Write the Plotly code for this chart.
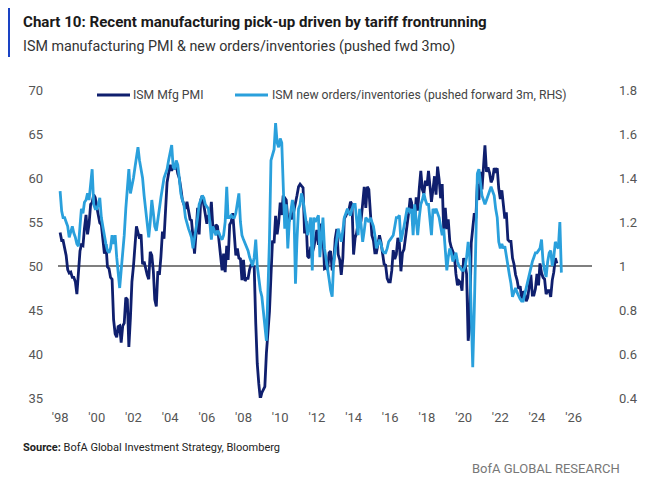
import plotly.graph_objects as go
import pandas as pd

# ---------------- data ----------------
ism_start = "1998-01-01"
ism_pmi = [
    53.8, 52.9, 52.9, 52.2, 51.2, 49.6, 49.2, 49.3, 48.7, 48.7, 48.2, 46.8,  # 1998
    49.5, 51.7, 52.4, 52.3, 54.3, 55.8, 53.6, 54.8, 57.0, 57.2, 58.1, 57.8,  # 1999
    56.7, 55.8, 54.9, 54.7, 53.2, 51.4, 52.5, 49.9, 49.7, 48.7, 48.5, 43.9,  # 2000
    42.3, 41.9, 43.1, 43.2, 41.3, 43.2, 43.5, 46.4, 46.2, 40.8, 44.1, 48.2,  # 2001
    50.0, 52.3, 54.5, 53.8, 53.1, 53.6, 50.2, 50.5, 49.5, 49.0, 48.5, 51.6,  # 2002
    51.2, 49.4, 46.2, 45.4, 49.4, 49.0, 51.0, 53.9, 53.1, 57.0, 59.5, 60.5,  # 2003
    61.5, 60.8, 61.5, 61.0, 61.5, 60.5, 60.0, 58.8, 57.5, 57.0, 56.5, 57.3,  # 2004
    56.4, 55.3, 55.2, 53.3, 51.4, 53.8, 56.6, 53.6, 57.5, 58.0, 57.0, 55.6,  # 2005
    54.8, 55.8, 55.3, 57.3, 54.4, 53.8, 54.7, 54.5, 52.9, 51.2, 49.5, 51.4,  # 2006
    49.3, 52.3, 50.7, 54.7, 55.0, 56.0, 53.8, 51.2, 52.0, 50.9, 50.8, 48.4,  # 2007
    50.7, 48.3, 48.6, 48.6, 49.6, 50.2, 50.0, 49.9, 43.5, 38.9, 36.6, 34.9,  # 2008
    35.6, 36.0, 36.3, 40.1, 42.8, 44.8, 48.9, 52.9, 52.6, 55.7, 53.6, 54.9,  # 2009
    57.2, 55.8, 58.0, 57.8, 57.5, 55.3, 55.1, 56.0, 55.3, 56.3, 57.0, 58.0,  # 2010
    59.0, 59.3, 59.1, 58.9, 53.7, 55.1, 51.1, 50.9, 52.2, 51.5, 52.1, 53.1,  # 2011
    54.1, 52.4, 53.4, 54.8, 53.5, 49.7, 49.8, 49.6, 51.5, 51.7, 49.5, 50.2,  # 2012
    53.1, 54.2, 51.3, 50.7, 49.0, 50.9, 55.4, 55.7, 56.2, 56.4, 57.3, 57.0,  # 2013
    51.3, 53.2, 53.7, 54.9, 55.4, 55.3, 57.1, 59.0, 56.6, 59.0, 58.7, 55.5,  # 2014
    53.5, 52.9, 51.5, 51.5, 52.8, 53.5, 52.7, 51.1, 50.2, 50.1, 48.6, 48.2,  # 2015
    48.2, 49.5, 51.8, 50.8, 51.3, 53.2, 52.6, 49.4, 51.5, 51.9, 53.2, 54.7,  # 2016
    56.0, 57.7, 57.2, 54.8, 54.9, 57.8, 56.3, 58.8, 60.8, 58.7, 58.2, 59.7,  # 2017
    59.1, 60.8, 59.3, 57.3, 58.7, 60.2, 58.1, 61.3, 59.8, 57.7, 59.3, 54.1,  # 2018
    56.6, 54.2, 55.3, 52.8, 52.1, 51.7, 51.2, 49.1, 47.8, 48.3, 48.1, 47.2,  # 2019
    50.9, 50.1, 49.1, 41.5, 43.1, 52.6, 54.2, 56.0, 55.4, 59.3, 57.5, 60.7,  # 2020
    58.7, 60.8, 63.7, 60.7, 61.2, 60.6, 59.5, 59.9, 61.1, 60.8, 61.1, 58.8,  # 2021
    57.6, 58.6, 57.1, 55.4, 56.1, 53.0, 52.8, 52.8, 50.9, 50.2, 49.0, 48.4,  # 2022
    47.4, 47.7, 46.3, 47.1, 46.9, 46.0, 46.4, 47.6, 49.0, 46.7, 46.7, 47.4,  # 2023
    49.1, 47.8, 50.3, 49.2, 48.7, 48.5, 46.8, 47.2, 47.2, 46.5, 48.4, 49.3,  # 2024
    50.9, 50.3,                                                              # 2025
]

ratio_start = "1998-01-01"
new_orders_inv_ratio = [
    1.34, 1.25, 1.22, 1.22, 1.20, 1.18, 1.13, 1.16, 1.18, 1.15, 1.13, 1.10,  # 1998
    1.09, 1.18, 1.26, 1.24, 1.29, 1.30, 1.33, 1.30, 1.36, 1.44, 1.28, 1.26,  # 1999
    1.26, 1.28, 1.31, 1.22, 1.18, 1.13, 1.10, 1.07, 1.06, 1.08, 1.14, 1.10,  # 2000
    1.14, 1.04, 0.97, 0.90, 0.98, 1.06, 1.14, 1.26, 1.34, 1.44, 1.33, 1.36,  # 2001
    1.40, 1.45, 1.50, 1.54, 1.48, 1.44, 1.40, 1.32, 1.26, 1.18, 1.13, 1.20,  # 2002
    1.30, 1.24, 1.18, 1.16, 1.22, 1.26, 1.31, 1.36, 1.40, 1.42, 1.44, 1.48,  # 2003
    1.52, 1.55, 1.45, 1.44, 1.48, 1.46, 1.40, 1.33, 1.30, 1.28, 1.22, 1.19,  # 2004
    1.17, 1.15, 1.13, 1.08, 1.12, 1.16, 1.22, 1.28, 1.30, 1.32, 1.31, 1.28,  # 2005
    1.27, 1.26, 1.20, 1.12, 1.18, 1.16, 1.14, 1.16, 1.15, 1.13, 1.12, 1.14,  # 2006
    1.20, 1.36, 1.22, 1.22, 1.23, 1.22, 1.22, 1.24, 1.28, 1.33, 1.20, 1.14,  # 2007
    1.12, 1.10, 1.09, 1.07, 1.04, 1.02, 1.00, 1.04, 1.12, 1.00, 0.94, 0.89,  # 2008
    0.86, 0.80, 0.72, 0.66, 0.88, 1.12, 1.48, 1.50, 1.53, 1.65, 1.56, 1.54,  # 2009
    1.58, 1.56, 1.33, 1.17, 1.28, 1.08, 1.20, 1.26, 1.30, 1.26, 0.92, 1.12,  # 2010
    1.26, 1.28, 1.33, 1.30, 1.26, 1.20, 1.14, 1.18, 1.22, 0.98, 1.22, 1.20,  # 2011
    1.22, 1.23, 1.04, 1.14, 1.22, 1.08, 1.04, 0.98, 0.94, 0.89, 0.86, 1.02,  # 2012
    1.08, 1.12, 1.17, 1.14, 1.11, 1.16, 1.22, 1.24, 1.26, 1.24, 1.23, 1.26,  # 2013
    1.28, 1.28, 1.20, 1.14, 1.26, 1.18, 1.11, 1.16, 1.22, 1.21, 1.20, 1.22,  # 2014
    1.20, 1.18, 1.14, 1.08, 1.10, 1.12, 1.10, 1.07, 1.06, 1.06, 1.08, 1.11,  # 2015
    1.12, 1.13, 1.14, 1.18, 1.22, 1.22, 1.23, 1.11, 1.14, 1.18, 1.22, 1.26,  # 2016
    1.26, 1.24, 1.26, 1.14, 1.28, 1.22, 1.14, 1.22, 1.28, 1.30, 1.33, 1.30,  # 2017
    1.28, 1.28, 1.20, 1.14, 1.26, 1.24, 1.26, 1.24, 1.22, 1.18, 1.14, 1.17,  # 2018
    1.08, 0.98, 1.04, 1.08, 1.06, 1.02, 1.04, 1.06, 1.02, 1.00, 0.99, 0.98,  # 2019
    0.98, 1.00, 1.04, 1.11, 1.04, 0.77, 0.54, 0.80, 1.16, 1.42, 1.44, 1.38,  # 2020
    1.32, 1.30, 1.28, 1.30, 1.32, 1.34, 1.36, 1.34, 1.32, 1.26, 1.22, 1.11,  # 2021
    1.08, 1.10, 1.08, 1.09, 1.04, 1.00, 0.96, 0.92, 0.86, 0.88, 0.90, 0.88,  # 2022
    0.86, 0.85, 0.84, 0.84, 0.87, 0.90, 0.94, 0.97, 1.00, 1.02, 1.04, 1.06,  # 2023
    1.06, 1.07, 1.08, 1.12, 1.02, 0.98, 0.95, 1.02, 1.06, 1.07, 1.00, 1.04,  # 2024
    1.11, 1.09, 1.08, 1.20, 0.97,                                            # 2025
]

series_names = ["ISM Mfg PMI", "ISM new orders/inventories (pushed forward 3m, RHS)"]
x_tick_years = list(range(1998, 2027, 2))
x_tick_labels = ["'98", "'00", "'02", "'04", "'06", "'08", "'10", "'12",
                 "'14", "'16", "'18", "'20", "'22", "'24", "'26"]
left_ticks = [35, 40, 45, 50, 55, 60, 65, 70]
right_ticks = [0.4, 0.6, 0.8, 1.0, 1.2, 1.4, 1.6, 1.8]
right_tick_labels = ["0.4", "0.6", "0.8", "1", "1.2", "1.4", "1.6", "1.8"]

# ---------------- styling ----------------
NAVY = "#0f1f6e"
LIGHT = "#2aa0dc"
FONT = "Roboto, Arial, sans-serif"
TICK_COLOR = "#555555"

ism_dates = pd.date_range(ism_start, periods=len(ism_pmi), freq="MS")
ratio_dates = pd.date_range(ratio_start, periods=len(new_orders_inv_ratio), freq="MS")

# The page body has an 8px default margin; figure is sized to fit the window.
OFF = 8
W, H = 652 - OFF, 485 - OFF
# plot area target on the page: x 58..592, y 90..398
ML = 58 - OFF
MR = W - (592 - OFF)
MT = 90 - OFF
MB = H - (398 - OFF)
PW, PH = W - ML - MR, H - MT - MB


def px(xpage):
    return (xpage - OFF - ML) / PW


def py(ypage):
    return (H - MB - (ypage - OFF)) / PH


fig = go.Figure()
fig.add_trace(go.Scatter(
    x=ism_dates, y=ism_pmi, name=series_names[0], mode="lines",
    line=dict(color=NAVY, width=2.8), yaxis="y", showlegend=False))
fig.add_trace(go.Scatter(
    x=ratio_dates, y=new_orders_inv_ratio, name=series_names[1], mode="lines",
    line=dict(color=LIGHT, width=2.8), yaxis="y2", showlegend=False))

fig.add_shape(type="line", xref="paper", yref="y", x0=0, x1=1, y0=50, y1=50,
              line=dict(color="#555555", width=1.3), layer="below")

# legend (drawn manually to match spacing)
for (x0, x1, tx), col, name in zip([(97, 130, 131), (235, 268, 270)],
                                   [NAVY, LIGHT], series_names):
    fig.add_shape(type="line", xref="paper", yref="paper",
                  x0=px(x0), x1=px(x1), y0=py(95), y1=py(95),
                  line=dict(color=col, width=3))
    fig.add_annotation(x=px(tx), y=py(95), xref="paper", yref="paper",
                       text=name, showarrow=False, xanchor="left", yanchor="middle",
                       font=dict(family=FONT, size=12.2, color="#444444"))

# blue bar next to title
fig.add_shape(type="rect", xref="paper", yref="paper",
              x0=px(4), x1=px(10), y0=py(57), y1=py(8),
              fillcolor="#1a43c4", line=dict(width=0))

fig.add_annotation(x=px(21), y=py(22), xref="paper", yref="paper",
                   text="<b>Chart 10: Recent manufacturing pick-up driven by tariff frontrunning</b>",
                   showarrow=False, xanchor="left", yanchor="middle",
                   font=dict(family=FONT, size=15.1, color="#1a1a1a"))
fig.add_annotation(x=px(21), y=py(46), xref="paper", yref="paper",
                   text="ISM manufacturing PMI &amp; new orders/inventories (pushed fwd 3mo)",
                   showarrow=False, xanchor="left", yanchor="middle",
                   font=dict(family=FONT, size=14.3, color="#333333"))
fig.add_annotation(x=px(21), y=py(447), xref="paper", yref="paper",
                   text="<b>Source:</b> BofA Global Investment Strategy, Bloomberg",
                   showarrow=False, xanchor="left", yanchor="middle",
                   font=dict(family=FONT, size=11, color="#222222"))
fig.add_annotation(x=px(622), y=py(468), xref="paper", yref="paper",
                   text="BofA GLOBAL RESEARCH",
                   showarrow=False, xanchor="right", yanchor="middle",
                   font=dict(family=FONT, size=13, color="#777777"))

fig.update_layout(
    width=W, height=H,
    margin=dict(l=ML, r=MR, t=MT, b=MB, autoexpand=False),
    paper_bgcolor="white", plot_bgcolor="white",
    font=dict(family=FONT, size=13, color=TICK_COLOR),
    showlegend=False,
    xaxis=dict(
        type="date",
        range=["1997-11-20", "2027-01-01"],
        tickvals=[f"{y}-01-01" for y in x_tick_years],
        ticktext=x_tick_labels,
        showgrid=False, zeroline=False, showline=False,
        ticks="", ticklabelstandoff=10,
        tickfont=dict(family=FONT, size=13, color=TICK_COLOR)),
    yaxis=dict(
        range=[35, 70], tickvals=left_ticks,
        showgrid=False, zeroline=False, showline=False,
        ticks="", ticklabelstandoff=14,
        tickfont=dict(family=FONT, size=13, color=TICK_COLOR)),
    yaxis2=dict(
        range=[0.4, 1.8], tickvals=right_ticks, ticktext=right_tick_labels,
        overlaying="y", side="right",
        showgrid=False, zeroline=False, showline=False,
        ticks="", ticklabelstandoff=26,
        tickfont=dict(family=FONT, size=13, color=TICK_COLOR)),
)

fig.write_html("out.html")
